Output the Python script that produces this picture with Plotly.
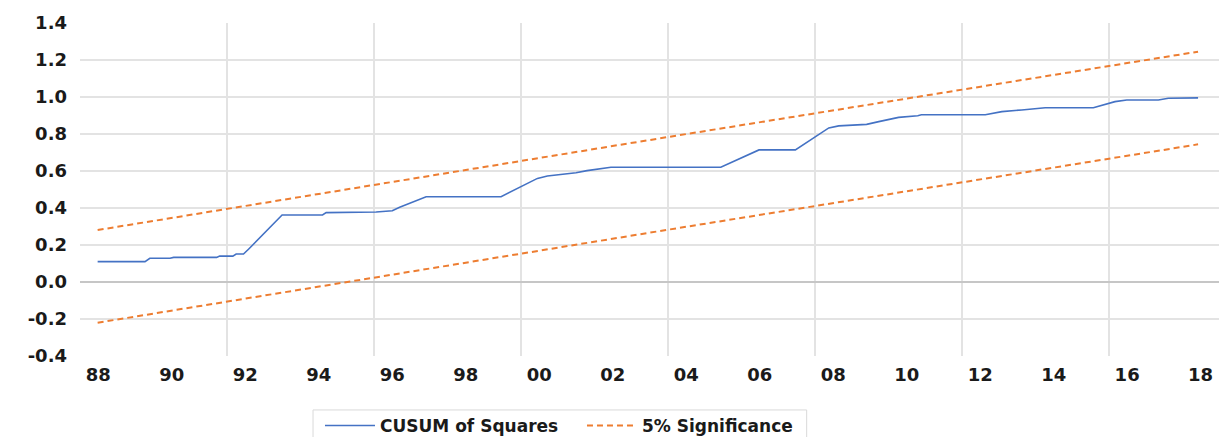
import plotly.graph_objects as go

# CUSUM of squares (decimal year, value)
cusum_x = [1988.48, 1989.77, 1989.9, 1990.45, 1990.55, 1991.72, 1991.8, 1992.16, 1992.25, 1992.45,
           1992.6, 1993.5, 1994.6, 1994.7, 1996.06, 1996.5, 1996.7, 1997.42, 1999.46, 2000.45,
           2000.72, 2001.09, 2001.5, 2001.8, 2002.13, 2002.45, 2005.44, 2006.48, 2007.47, 2008.38,
           2008.65, 2009.41, 2009.74, 2010.0, 2010.28, 2010.8, 2010.9, 2012.64, 2013.09, 2013.63,
           2014.27, 2015.58, 2015.9, 2016.17, 2016.49, 2017.35, 2017.62, 2018.43]
cusum_y = [0.110, 0.110, 0.128, 0.128, 0.133, 0.133, 0.140, 0.140, 0.151, 0.151,
           0.180, 0.362, 0.362, 0.375, 0.378, 0.385, 0.404, 0.461, 0.461, 0.560,
           0.573, 0.580, 0.591, 0.602, 0.611, 0.620, 0.620, 0.714, 0.714, 0.833,
           0.844, 0.852, 0.867, 0.879, 0.890, 0.899, 0.904, 0.904, 0.921, 0.930,
           0.942, 0.942, 0.962, 0.975, 0.984, 0.984, 0.993, 0.995]

bound_x = [1988.48, 2003.95, 2018.43]
upper_y = [0.281, 0.782, 1.245]
lower_y = [-0.220, 0.281, 0.744]

tick_years = [1988, 1990, 1992, 1994, 1996, 1998, 2000, 2002, 2004, 2006, 2008, 2010, 2012, 2014, 2016, 2018]
tick_labels = ["88", "90", "92", "94", "96", "98", "00", "02", "04", "06", "08", "10", "12", "14", "16", "18"]
grid_years = [1992, 1996, 2000, 2004, 2008, 2012, 2016]
y_ticks = [-0.4, -0.2, 0.0, 0.2, 0.4, 0.6, 0.8, 1.0, 1.2, 1.4]
y_tick_labels = ["-0.4", "-0.2", "0.0", "0.2", "0.4", "0.6", "0.8", "1.0", "1.2", "1.4"]
y_grid = [-0.2, 0.0, 0.2, 0.4, 0.6, 0.8, 1.0, 1.2]

BLUE = "#4472C4"
ORANGE = "#ED7D31"
DASH = "6px,4px"

fig = go.Figure()
fig.add_trace(go.Scatter(x=cusum_x, y=cusum_y, mode="lines", name="CUSUM of Squares",
                         line=dict(color=BLUE, width=1.6)))
fig.add_trace(go.Scatter(x=bound_x, y=upper_y, mode="lines", name="5% Significance",
                         line=dict(color=ORANGE, width=2, dash=DASH)))
fig.add_trace(go.Scatter(x=bound_x, y=lower_y, mode="lines", name="5% Significance",
                         showlegend=False, line=dict(color=ORANGE, width=2, dash=DASH)))

# legend frame (box runs past the bottom edge, as in the reference)
fig.add_shape(type="rect", xref="paper", yref="paper",
              x0=0.2046, x1=0.638, y0=-0.30, y1=-0.162,
              line=dict(color="#d9d9d9", width=1), fillcolor="rgba(0,0,0,0)", layer="below")

fig.update_layout(
    width=1227, height=437,
    margin=dict(l=80, r=8, t=23, b=81, autoexpand=False),
    paper_bgcolor="white", plot_bgcolor="white",
    font=dict(family="DejaVu Sans", color="#1a1a1a"),
    showlegend=True,
    legend=dict(orientation="h", x=0.2107, y=-0.156, xanchor="left", yanchor="top",
                borderwidth=0, bgcolor="rgba(0,0,0,0)",
                font=dict(size=17, color="#1a1a1a", weight="bold"),
                itemwidth=50, entrywidth=197),
    xaxis=dict(range=[1988, 2019], tickmode="array",
               tickvals=[y + 0.5 for y in tick_years], ticktext=tick_labels,
               showgrid=False, zeroline=False, showline=False, ticks="", automargin=False,
               tickfont=dict(size=18, weight="bold"), ticklabelstandoff=6,
               minor=dict(tickvals=grid_years, showgrid=True, gridcolor="#e3e3e3", gridwidth=1.5, ticks="")),
    yaxis=dict(range=[-0.4, 1.4], tickmode="array", tickvals=y_ticks, ticktext=y_tick_labels,
               showgrid=False, zeroline=True, zerolinecolor="#c6c6c6", zerolinewidth=2,
               showline=False, ticks="", automargin=False,
               tickfont=dict(size=18, weight="bold"), ticklabelstandoff=12,
               minor=dict(tickvals=y_grid, showgrid=True, gridcolor="#e3e3e3", gridwidth=1.5, ticks="")),
)

fig.write_html("out.html", config={"displayModeBar": False},
               post_script="document.documentElement.style.margin='0';document.body.style.margin='0';document.body.style.overflow='hidden';")
